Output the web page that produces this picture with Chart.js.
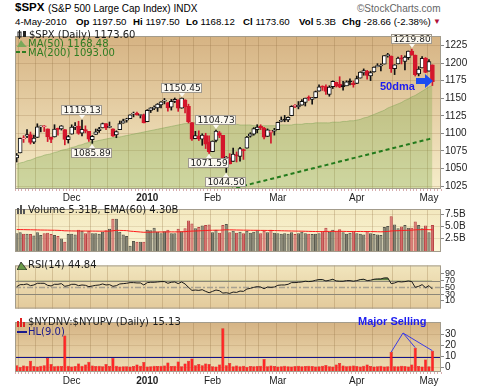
<!DOCTYPE html>
<html>
<head>
<meta charset="utf-8">
<script src="https://cdn.jsdelivr.net/npm/chart.js@4.4.0/dist/chart.umd.min.js"></script>
<style>
  html, body { margin: 0; padding: 0; background: #fff; }
  body { width: 480px; height: 388px; position: relative; overflow: hidden; font-family: "Liberation Sans", Arial, sans-serif; }
  canvas { position: absolute; left: 0; }
  .t { position: absolute; white-space: nowrap; line-height: 1; z-index: 5; }
  .h2 { font-size: 9.7px; top: 17px; }
  .lg { font-family: "DejaVu Sans", sans-serif; font-size: 10px; color: #1a1a1a; }
  .ic { position: absolute; z-index: 5; }
  b { font-weight: bold; }
</style>
</head>
<body>

<div class="t" style="left:15px;top:2px;font-size:11.5px;font-weight:bold;">$SPX</div>
<div class="t" style="left:48px;top:4px;font-size:10px;">(S&amp;P 500 Large Cap Index) INDX</div>
<div class="t" style="left:357px;top:4px;font-size:10px;color:#666;">©StockCharts.com</div>

<div class="t h2" style="left:15px;">4-May-2010</div>
<div class="t h2" style="left:76px;"><b>Op</b> 1197.50</div>
<div class="t h2" style="left:133px;"><b>Hi</b> 1197.50</div>
<div class="t h2" style="left:186px;"><b>Lo</b> 1168.12</div>
<div class="t h2" style="left:243px;"><b>Cl</b> 1173.60</div>
<div class="t h2" style="left:299px;"><b>Vol</b> 5.3B</div>
<div class="t h2" style="left:342px;"><b>Chg</b> -28.66 (-2.38%)</div>
<div class="t" style="left:433px;top:18px;font-size:8px;color:#b0103a;">▼</div>

<canvas id="cMain" width="480" height="174" style="top:29px"></canvas>
<canvas id="cVol" width="480" height="57" style="top:202px"></canvas>
<canvas id="cRsi" width="480" height="56" style="top:259px"></canvas>
<canvas id="cBreadth" width="480" height="73" style="top:315px"></canvas>

<!-- main panel legend -->
<svg class="ic" style="left:17px;top:30px" width="10" height="9"><rect x="1" y="2" width="3" height="5" fill="none" stroke="#222"/><line x1="2.5" y1="0" x2="2.5" y2="9" stroke="#222"/><rect x="6" y="1" width="3" height="6" fill="#222"/></svg>
<div class="t lg" style="left:29px;top:30px;">$SPX (Daily) 1173.60</div>
<svg class="ic" style="left:17px;top:39px" width="10" height="8"><polygon points="0,8 4,1 7,5 10,8" fill="#7aa85a"/></svg>
<div class="t lg" style="left:28px;top:39px;color:#2e7d22;">MA(50) 1168.48</div>
<svg class="ic" style="left:16px;top:48px" width="12" height="8"><line x1="0" y1="4" x2="12" y2="4" stroke="#2e7d22" stroke-width="2" stroke-dasharray="4,2"/></svg>
<div class="t lg" style="left:28px;top:48px;color:#2e7d22;">MA(200) 1093.00</div>
<div class="t" style="left:380px;top:81px;font-size:11px;font-weight:bold;color:#1c1cf0;">50dma</div>
<svg class="ic" style="left:416px;top:74px" width="18" height="14"><polygon points="0,4 9,4 9,0 17,7 9,14 9,10 0,10" fill="#1c4cf0"/></svg>

<!-- volume legend -->
<svg class="ic" style="left:17px;top:205px" width="10" height="9"><rect x="0" y="3" width="2" height="6" fill="#555"/><rect x="3" y="0" width="2" height="9" fill="#555"/><rect x="6" y="4" width="2" height="5" fill="#555"/></svg>
<div class="t lg" style="left:28px;top:205px;">Volume 5.31B, EMA(60) 4.30B</div>

<!-- rsi legend -->
<svg class="ic" style="left:17px;top:261px" width="10" height="9"><polygon points="0,9 4,1 7,5 10,9" fill="#6a9a4a" stroke="#222" stroke-width="0.8"/></svg>
<div class="t lg" style="left:28px;top:260px;">RSI(14) 44.84</div>

<!-- breadth legend -->
<svg class="ic" style="left:17px;top:318px" width="10" height="9"><rect x="0" y="3" width="2" height="6" fill="#e02020"/><rect x="3" y="0" width="2" height="9" fill="#e02020"/><rect x="6" y="4" width="2" height="5" fill="#e02020"/></svg>
<div class="t lg" style="left:28px;top:317px;">$NYDNV:$NYUPV (Daily) 15.13</div>
<svg class="ic" style="left:17px;top:328px" width="10" height="8"><line x1="0" y1="4" x2="10" y2="4" stroke="#1a1a8c" stroke-width="2"/></svg>
<div class="t lg" style="left:28px;top:327px;color:#1a1a8c;">HL(9.0)</div>
<div class="t" style="left:358px;top:316px;font-size:11px;font-weight:bold;color:#1c1cf0;">Major Selling</div>

<script>
// trading days shown, by month
const novDays = [6, 9, 10, 11, 12, 13, 16, 17, 18, 19, 20, 23, 24, 25, 27, 30];
const decDays = [1, 2, 3, 4, 7, 8, 9, 10, 11, 14, 15, 16, 17, 18, 21, 22, 23, 24, 28, 29, 30, 31];
const janDays = [4, 5, 6, 7, 8, 11, 12, 13, 14, 15, 19, 20, 21, 22, 25, 26, 27, 28, 29];
const febDays = [1, 2, 3, 4, 5, 8, 9, 10, 11, 12, 16, 17, 18, 19, 22, 23, 24, 25, 26];
const marDays = [1, 2, 3, 4, 5, 8, 9, 10, 11, 12, 15, 16, 17, 18, 19, 22, 23, 24, 25, 26, 29, 30, 31];
const aprDays = [1, 5, 6, 7, 8, 9, 12, 13, 14, 15, 16, 19, 20, 21, 22, 23, 26, 27, 28, 29, 30];
const mayDays = [3, 4];
const monthTicks = ['', 'Dec', '2010', 'Feb', 'Mar', 'Apr', 'May'];

const opens = [1064.95,1072.31,1092.19,1096.04,1098.31,1087.59,1094.13,1109.22,1109.44,1106.44,
  1094.66,1094.86,1105.83,1106.49,1105.47,1091.07,1098.89,1109.03,1110.59,1100.34,
  1105.52,1103.04,1091.07,1098.69,1103.96,1107.84,1114.11,1108.61,1106.36,1097.86,
  1105.31,1114.51,1118.84,1121.08,1127.53,1128.55,1125.53,1126.60,1116.56,1132.66,
  1135.71,1136.27,1140.52,1145.96,1143.81,1137.31,1145.68,1147.72,1136.03,1147.95,
  1138.68,1115.49,1092.40,1095.80,1091.94,1096.93,1087.61,1073.89,1090.05,1100.67,
  1097.25,1064.12,1065.51,1060.06,1069.68,1067.10,1075.95,1079.13,1096.14,1099.03,
  1105.49,1110.00,1107.49,1095.89,1101.24,1103.10,1105.36,1117.01,1119.36,1119.12,
  1125.12,1138.40,1137.56,1140.22,1143.96,1151.71,1148.53,1150.83,1159.94,1166.13,
  1166.68,1155.35,1166.47,1172.70,1170.03,1167.58,1167.71,1173.75,1171.75,1171.23,
  1178.71,1186.01,1188.23,1181.75,1187.47,1194.94,1195.94,1198.69,1210.77,1210.17,
  1192.06,1199.04,1207.16,1202.52,1207.87,1217.07,1211.52,1184.59,1193.30,1206.77,
  1188.58,1197.50];
const highs = [1071.48,1093.19,1096.77,1105.37,1101.97,1097.79,1113.69,1110.52,1111.10,1106.44,
  1094.66,1112.38,1107.56,1111.18,1105.47,1097.24,1112.28,1115.58,1117.28,1119.13,
  1110.72,1103.04,1097.04,1106.25,1108.50,1114.76,1114.11,1116.21,1106.36,1103.74,
  1117.68,1120.27,1121.58,1126.48,1130.38,1130.38,1126.42,1127.64,1133.87,1136.63,
  1139.19,1142.46,1145.39,1149.74,1143.81,1148.40,1150.41,1147.77,1150.45,1147.95,
  1141.58,1115.49,1102.97,1103.69,1099.51,1100.22,1096.45,1089.38,1104.73,1102.72,
  1097.25,1067.13,1071.20,1079.28,1073.67,1080.04,1077.81,1095.67,1101.03,1108.24,
  1112.42,1112.29,1108.58,1106.42,1103.50,1107.24,1116.11,1123.46,1125.64,1123.73,
  1139.38,1141.05,1145.37,1148.26,1150.24,1153.41,1150.98,1160.28,1169.20,1167.77,
  1169.20,1167.82,1174.72,1173.04,1180.69,1173.93,1174.85,1177.83,1174.56,1181.43,
  1187.73,1191.80,1189.60,1188.55,1194.66,1199.20,1199.04,1210.65,1213.92,1210.17,
  1197.87,1208.58,1210.99,1210.27,1217.28,1219.80,1211.52,1195.05,1209.36,1207.99,
  1205.13,1197.50];
const lows = [1059.32,1072.31,1087.18,1093.81,1084.90,1085.33,1094.13,1102.19,1102.70,1088.40,
  1086.81,1094.86,1097.63,1104.75,1083.74,1086.25,1098.89,1105.29,1098.74,1096.52,
  1100.83,1088.61,1085.89,1098.69,1101.34,1107.84,1105.35,1107.96,1095.88,1093.88,
  1105.31,1114.51,1116.00,1121.08,1123.51,1126.08,1121.94,1114.81,1116.56,1129.66,
  1133.95,1131.32,1136.22,1142.02,1131.77,1133.18,1143.80,1131.39,1135.77,1129.25,
  1114.84,1090.18,1092.40,1089.86,1083.11,1078.46,1071.59,1073.89,1087.96,1093.97,
  1062.78,1044.50,1056.51,1060.06,1059.34,1060.59,1062.97,1079.13,1094.72,1097.48,
  1100.80,1105.38,1092.18,1095.50,1086.02,1097.56,1105.36,1116.51,1116.58,1116.66,
  1125.12,1136.77,1134.90,1140.09,1138.99,1146.97,1141.45,1150.35,1159.94,1161.16,
  1155.33,1152.88,1163.83,1166.01,1165.09,1161.48,1167.71,1168.92,1165.77,1170.69,
  1178.71,1182.77,1177.25,1175.12,1187.15,1194.71,1188.82,1198.69,1208.50,1186.77,
  1183.68,1199.04,1198.85,1190.19,1205.10,1211.07,1181.62,1181.81,1193.30,1186.32,
  1188.58,1168.12];
const closes = [1069.30,1093.08,1093.01,1098.51,1087.24,1093.48,1109.30,1110.32,1109.80,1094.90,
  1091.38,1106.24,1105.65,1110.63,1091.49,1095.63,1108.86,1109.24,1099.92,1105.98,
  1103.25,1091.94,1095.95,1102.35,1106.41,1114.11,1107.93,1109.18,1096.08,1102.47,
  1114.05,1118.02,1120.59,1126.48,1127.78,1126.20,1126.42,1115.10,1132.99,1136.52,
  1137.14,1141.69,1144.98,1146.98,1136.22,1145.68,1148.46,1136.03,1150.23,1138.04,
  1116.48,1091.76,1096.78,1092.17,1097.50,1084.53,1073.87,1089.19,1103.32,1097.28,
  1063.11,1066.19,1056.74,1070.52,1068.13,1078.47,1075.51,1094.87,1099.51,1106.75,
  1109.17,1108.01,1094.60,1105.24,1102.94,1104.49,1115.71,1118.31,1118.79,1122.97,
  1138.70,1138.50,1140.45,1145.61,1150.24,1149.99,1150.51,1159.46,1166.21,1165.83,
  1159.90,1165.81,1174.17,1167.72,1165.73,1166.59,1173.22,1173.27,1169.43,1178.10,
  1187.44,1189.44,1182.45,1186.44,1194.37,1196.48,1197.30,1210.65,1211.67,1192.13,
  1197.52,1207.17,1205.94,1208.67,1217.28,1212.05,1183.71,1191.36,1206.78,1186.69,
  1202.26,1173.60];
const ma50 = [1056,1058,1059,1061,1062,1064,1066,1067,1069,1070,
  1071,1073,1074,1076,1077,1078,1080,1081,1083,1084,
  1086,1087,1088,1089,1090,1091,1092,1093,1094,1095,
  1095,1096,1097,1098,1099,1100,1101,1102,1103,1104,
  1105,1106,1107,1108,1109,1110,1111,1112,1113,1114,
  1114,1115,1115,1115,1116,1116,1116,1116,1116,1115,
  1115,1114,1114,1113,1113,1112,1112,1112,1112,1111,
  1111,1111,1111,1111,1111,1111,1111,1112,1112,1112,
  1112,1113,1113,1113,1114,1114,1114,1115,1115,1115,
  1115,1115,1116,1116,1116,1117,1117,1118,1118,1119,
  1120,1122,1123,1125,1127,1129,1131,1133,1136,1138,
  1140,1142,1144,1147,1149,1152,1154,1157,1160,1163,
  1166,1168.48];
const ma200 = [null,null,null,null,null,null,null,null,null,null,
  null,null,null,null,null,null,null,null,null,null,
  null,null,null,null,null,null,null,null,null,null,
  null,null,null,null,null,null,null,null,null,null,
  null,null,null,null,null,null,null,null,null,null,
  null,null,null,null,null,null,1013.0,1014.3,1015.5,1016.7,
  1018.0,1019.2,1020.4,1021.6,1022.9,1024.1,1025.3,1026.6,1027.8,1029.0,
  1030.3,1031.5,1032.7,1034.0,1035.2,1036.4,1037.7,1038.9,1040.1,1041.4,
  1042.6,1043.8,1045.1,1046.3,1047.5,1048.8,1050.0,1051.2,1052.5,1053.7,
  1054.9,1056.2,1057.4,1058.6,1059.9,1061.1,1062.3,1063.6,1064.8,1066.0,
  1067.3,1068.5,1069.7,1071.0,1072.2,1073.4,1074.7,1075.9,1077.1,1078.4,
  1079.6,1080.8,1082.1,1083.3,1084.5,1085.8,1087.0,1088.2,1089.5,1090.7,
  1091.9,1093.0];
// volume in billions of shares
const volume = [3.6,3.8,3.5,3.5,3.4,3.1,3.8,3.2,3.6,3.7,
  3.4,3.2,3.0,2.5,1.8,3.4,3.5,3.3,4.3,4.1,
  3.6,4.1,3.6,3.6,3.5,3.9,4.2,4.5,6.6,6.6,
  3.9,3.3,3.0,1.0,2.0,1.8,1.8,1.8,4.3,4.2,
  4.7,3.9,3.6,4.0,4.3,3.6,3.6,4.5,4.0,4.6,
  6.2,5.6,4.6,4.9,5.2,5.3,5.4,3.8,4.3,3.7,
  5.3,5.5,3.8,4.1,3.7,3.9,3.6,4.1,3.7,3.9,
  4.2,3.6,4.1,3.8,4.3,3.7,3.6,3.5,3.6,3.5,
  3.8,3.4,3.6,3.9,3.6,3.5,3.4,3.5,3.6,4.0,
  4.7,3.9,4.3,4.0,4.4,3.8,3.5,3.7,4.0,3.6,
  3.5,3.3,4.0,3.6,3.4,3.3,3.2,4.9,5.1,7.1,
  5.4,4.6,5.0,5.3,4.7,4.7,6.0,5.3,4.6,5.2,
  3.8,5.31];
const volEma = [4.35,4.34,4.33,4.31,4.30,4.28,4.27,4.25,4.24,4.23,
  4.21,4.20,4.18,4.15,4.09,4.08,4.06,4.05,4.05,4.05,
  4.04,4.04,4.03,4.02,4.01,4.01,4.01,4.02,4.10,4.18,
  4.17,4.15,4.12,4.02,3.96,3.90,3.84,3.78,3.80,3.81,
  3.84,3.85,3.85,3.85,3.87,3.87,3.86,3.88,3.89,3.91,
  3.98,4.03,4.05,4.08,4.11,4.15,4.19,4.20,4.21,4.21,
  4.25,4.29,4.28,4.27,4.25,4.24,4.22,4.22,4.20,4.19,
  4.19,4.17,4.17,4.16,4.16,4.14,4.12,4.10,4.08,4.06,
  4.05,4.03,4.02,4.01,3.99,3.97,3.95,3.94,3.92,3.94,
  3.96,3.96,3.97,3.97,3.98,3.97,3.95,3.94,3.95,3.94,
  3.95,3.93,3.94,3.93,3.92,3.90,3.88,3.91,3.95,4.05,
  4.09,4.11,4.14,4.18,4.20,4.22,4.28,4.31,4.32,4.35,
  4.31,4.30];
const rsi = [52,58,58,60,55,57,62,62,62,56,
  54,59,59,61,53,55,59,59,55,57,
  56,52,54,56,57,60,57,58,53,55,
  60,61,62,64,64,63,63,57,64,65,
  65,66,67,67,62,65,66,61,66,60,
  50,41,42,41,43,38,34,38,42,40,
  33,34,32,36,35,39,38,45,47,50,
  52,51,46,51,50,51,56,57,57,59,
  64,64,65,66,68,67,68,71,73,73,
  69,71,74,69,68,68,70,70,68,70,
  73,74,70,71,74,75,75,78,78,61,
  63,67,66,67,69,67,50,53,58,49,
  55,44.84];
// $NYDNV:$NYUPV ratio
const breadth = [2,0.6,1.8,1.2,6,1.2,0.8,1.5,2,8.5,
  3,1,1.5,1.2,29,1.5,0.8,1.2,3.5,1.5,
  2.5,5.2,1.8,1.2,1.5,1,3,1.2,8.5,1.5,
  0.8,1,1,0.8,1.2,2.5,1.5,4.8,0.8,1,
  1.5,1.2,1.5,1.8,4.5,1.2,1.5,5.3,1,3.5,
  6,8,2,3,2,3.5,3,1,0.8,2.5,
  35.5,2,4,1,1.8,1,1.5,0.6,1.2,1,
  1.2,1.5,7.5,1,1.8,1.2,0.8,1,1.5,1,
  0.7,1.2,1.5,1,1.2,1.5,1.2,0.8,1,1.5,
  2.2,1,0.8,2.5,4,1.8,1,1.5,1.8,1.2,
  0.8,1.5,2.7,1.2,0.8,1,1.5,0.8,1,13.9,
  1,1,1.5,1.2,0.8,2.5,17.9,1.2,0.8,7.2,
  1,15.13];
const hlLevel = 9.0;
const priceTicks = [1025, 1050, 1075, 1100, 1125, 1150, 1175, 1200, 1225];
const volTicks = [2.5, 5.0, 7.5];
const rsiTicks = [10, 30, 50, 70, 90];
const breadthTicks = [0, 10, 20, 30];
// [bar index, 'high' or 'low'] for the boxed price labels
const callouts = [[19, 'high'], [22, 'low'], [48, 'high'], [58, 'high'], [56, 'low'], [61, 'low'], [115, 'high']];
const sellingBars = [109, 116, 121];

// build x categories
const monthList = [[2009, 10, novDays], [2009, 11, decDays], [2010, 0, janDays], [2010, 1, febDays],
  [2010, 2, marDays], [2010, 3, aprDays], [2010, 4, mayDays]];
const xLabels = [];
const tickText = {};
const gridIdx = [];
monthList.forEach(([y, m, days], k) => {
  const start = xLabels.length;
  days.forEach(d => xLabels.push(y + '-' + (m + 1) + '-' + d));
  if (monthTicks[k]) tickText[start] = monthTicks[k];
  if (k === 0) {
    [1, 6, 11].forEach(i => gridIdx.push(i));
  } else {
    const n = days.length < 5 ? 20 : days.length;
    for (let q = 0; q < 4; q++) {
      const i = start + Math.round(q * n / 4);
      if (i < start + days.length) gridIdx.push(i);
    }
  }
});
xLabels.push('', '');

Chart.defaults.font.family = 'Liberation Sans';
Chart.defaults.font.size = 10;
Chart.defaults.color = '#222';

const red = '#d4162c';
const candleCol = closes.map((c, i) => (i > 0 && c < closes[i - 1]) ? red : '#111');
const candleFill = closes.map((c, i) => c < opens[i] ? candleCol[i] : '#ffffff');
const downDay = closes.map((c, i) => i > 0 && c < closes[i - 1]);

const panelBg = {
  id: 'panelBg',
  beforeDraw(chart, args, opts) {
    const {ctx, chartArea: a} = chart;
    const g = ctx.createLinearGradient(0, a.top, 0, a.bottom);
    g.addColorStop(0, opts.top);
    g.addColorStop(1, opts.bottom);
    ctx.save();
    ctx.fillStyle = g;
    ctx.fillRect(a.left, a.top, a.right - a.left, a.bottom - a.top);
    ctx.restore();
  },
  beforeDatasetsDraw(chart, args, opts) {
    const {ctx, chartArea: a} = chart;
    const ys = chart.scales.y;
    (opts.lines || []).forEach(l => {
      const py = Math.round(ys.getPixelForValue(l.value)) + 0.5;
      ctx.save();
      ctx.strokeStyle = l.color;
      ctx.lineWidth = l.width || 1;
      ctx.setLineDash(l.dash || []);
      ctx.beginPath();
      ctx.moveTo(a.left, py);
      ctx.lineTo(a.right, py);
      ctx.stroke();
      ctx.restore();
    });
  },
  afterDraw(chart, args, opts) {
    const {ctx, chartArea: a} = chart;
    ctx.save();
    ctx.strokeStyle = '#a39c8c';
    ctx.lineWidth = 1;
    ctx.strokeRect(a.left + 0.5, a.top + 0.5, a.right - a.left - 1, a.bottom - a.top - 1);
    ctx.restore();
  }
};
Chart.register(panelBg);

function xAxis(showLabels, height) {
  return {
    type: 'category',
    labels: xLabels,
    offset: true,
    afterFit: s => { s.height = height; },
    border: { display: false },
    grid: {
      offset: true,
      color: c => gridIdx.includes(c.index) ? 'rgba(150,115,70,0.3)' : 'rgba(0,0,0,0)',
      drawTicks: showLabels,
      tickLength: 2,
      tickColor: 'rgba(200,140,140,0.7)'
    },
    ticks: {
      display: showLabels,
      autoSkip: false,
      maxRotation: 0,
      padding: 1,
      color: '#222',
      font: c => ({ family: 'Liberation Sans', size: 10, weight: tickText[c.index] === '2010' ? 'bold' : 'normal' }),
      callback: (v, i) => tickText[i] || ''
    }
  };
}

function yAxis(min, max, ticks, fmt, gridColor, size) {
  return {
    position: 'right',
    min: min,
    max: max,
    afterFit: s => { s.width = 39; },
    afterBuildTicks: s => { s.ticks = ticks.map(v => ({ value: v })); },
    border: { display: false },
    grid: { color: gridColor, tickLength: 3, tickColor: '#888' },
    ticks: { autoSkip: false, padding: 1, color: '#222', font: { family: 'Liberation Sans', size: size || 10 }, callback: fmt }
  };
}

const baseOpts = {
  responsive: false,
  animation: false,
  devicePixelRatio: 1,
  layout: { padding: { left: 15, right: 0, top: 0, bottom: 0 } },
  events: []
};

// main price panel
const calloutPlugin = {
  id: 'callouts',
  afterDatasetsDraw(chart) {
    const {ctx} = chart;
    const xs = chart.scales.x, ys = chart.scales.y;
    ctx.save();
    ctx.font = '9px "DejaVu Sans"';
    callouts.forEach(([i, kind]) => {
      const v = kind === 'high' ? highs[i] : lows[i];
      const txt = v.toFixed(2);
      const w = Math.round(ctx.measureText(txt).width) + 4;
      const h = 10;
      const px = Math.round(xs.getPixelForValue(i));
      const py = ys.getPixelForValue(v);
      const top = kind === 'high' ? Math.round(py - 5 - h) : Math.round(py + 5);
      const left = px - Math.round(w / 2);
      ctx.fillStyle = '#fbf8f0';
      ctx.strokeStyle = '#a09a90';
      ctx.lineWidth = 1;
      ctx.fillRect(left, top, w, h);
      ctx.strokeRect(left + 0.5, top + 0.5, w - 1, h - 1);
      ctx.beginPath();
      if (kind === 'high') {
        ctx.moveTo(px - 3, top + h); ctx.lineTo(px + 3, top + h); ctx.lineTo(px, top + h + 4);
      } else {
        ctx.moveTo(px - 3, top); ctx.lineTo(px + 3, top); ctx.lineTo(px, top - 4);
      }
      ctx.closePath();
      ctx.fillStyle = '#fbf8f0';
      ctx.fill();
      ctx.fillStyle = '#222';
      ctx.textAlign = 'center';
      ctx.textBaseline = 'middle';
      ctx.fillText(txt, px, top + h / 2 + 0.5);
    });
    ctx.restore();
  }
};

new Chart(document.getElementById('cMain'), {
  type: 'bar',
  data: {
    labels: xLabels,
    datasets: [
      { type: 'line', data: ma50, order: 5, fill: 'start', backgroundColor: 'rgba(125,170,75,0.33)',
        borderColor: 'rgba(120,160,80,0.45)', borderWidth: 1, pointRadius: 0, tension: 0.3 },
      { type: 'line', data: ma200, order: 4, fill: false, borderColor: '#237a1c', borderWidth: 2,
        borderDash: [4, 3], pointRadius: 0 },
      { data: lows.map((l, i) => [l, highs[i]]), order: 3, grouped: false, barThickness: 1,
        backgroundColor: candleCol, borderWidth: 0 },
      { data: opens.map((o, i) => [o, closes[i]]), order: 2, grouped: false, barThickness: 4,
        minBarLength: 1, backgroundColor: candleFill, borderColor: candleCol, borderWidth: 1,
        borderSkipped: false }
    ]
  },
  options: Object.assign({}, baseOpts, {
    scales: {
      x: xAxis(true, 14),
      y: yAxis(1020.9, 1238.6, priceTicks, v => v, 'rgba(150,115,70,0.25)')
    },
    plugins: {
      legend: { display: false }, tooltip: { enabled: false },
      panelBg: { top: '#d6b383', bottom: '#f6edca' }
    }
  }),
  plugins: [calloutPlugin]
});

// volume panel
new Chart(document.getElementById('cVol'), {
  type: 'bar',
  data: {
    labels: xLabels,
    datasets: [
      { type: 'line', data: volEma, order: 1, borderColor: '#ff1a1a', borderWidth: 1, pointRadius: 0 },
      { data: volume, order: 2, barPercentage: 0.92, categoryPercentage: 1, base: -0.3,
        backgroundColor: downDay.map(d => d ? '#d46a6a' : '#7d7d70'),
        borderColor: downDay.map(d => d ? '#b84444' : '#55554a'), borderWidth: 1, borderSkipped: 'bottom' }
    ]
  },
  options: Object.assign({}, baseOpts, {
    scales: {
      x: xAxis(false, 0),
      y: yAxis(-0.3, 8.6, volTicks, v => v.toFixed(1) + 'B', 'rgba(150,115,70,0.18)')
    },
    plugins: {
      legend: { display: false }, tooltip: { enabled: false },
      panelBg: { top: '#f3e8be', bottom: '#fbf5d6' }
    }
  })
});

// RSI panel
new Chart(document.getElementById('cRsi'), {
  type: 'line',
  data: {
    labels: xLabels,
    datasets: [
      { data: rsi, borderColor: '#1a1a1a', borderWidth: 1, pointRadius: 0,
        fill: { target: { value: 70 }, above: 'rgba(60,110,40,0.8)', below: 'rgba(0,0,0,0)' } }
    ]
  },
  options: Object.assign({}, baseOpts, {
    scales: {
      x: xAxis(false, 0),
      y: yAxis(-13, 115, rsiTicks, v => v, 'rgba(0,0,0,0)', 9)
    },
    plugins: {
      legend: { display: false }, tooltip: { enabled: false },
      panelBg: { top: '#f1e5bd', bottom: '#e3ca9b', lines: [
        { value: 70, color: '#8c8778' }, { value: 30, color: '#8c8778' },
        { value: 50, color: '#a8a190', width: 1.5, dash: [6, 2, 2, 2] }] }
    }
  })
});

// $NYDNV:$NYUPV panel
const sellingPlugin = {
  id: 'selling',
  afterDatasetsDraw(chart) {
    const {ctx} = chart;
    const xs = chart.scales.x, ys = chart.scales.y;
    ctx.save();
    ctx.strokeStyle = '#3a3ae6';
    ctx.lineWidth = 1;
    sellingBars.forEach(i => {
      ctx.beginPath();
      ctx.moveTo(403, 18);
      ctx.lineTo(xs.getPixelForValue(i), ys.getPixelForValue(breadth[i]));
      ctx.stroke();
    });
    ctx.restore();
  }
};

new Chart(document.getElementById('cBreadth'), {
  type: 'bar',
  data: {
    labels: xLabels,
    datasets: [
      { data: breadth, barPercentage: 0.92, categoryPercentage: 1, base: -4.2,
        backgroundColor: '#ff2626', borderColor: '#d01010', borderWidth: 0.5, borderSkipped: 'bottom' }
    ]
  },
  options: Object.assign({}, baseOpts, {
    scales: {
      x: xAxis(true, 16),
      y: yAxis(-4.2, 41.2, breadthTicks, v => v, 'rgba(150,115,70,0.2)')
    },
    plugins: {
      legend: { display: false }, tooltip: { enabled: false },
      panelBg: { top: '#d5b384', bottom: '#efdfb6', lines: [{ value: hlLevel, color: '#14148a' }] }
    }
  }),
  plugins: [sellingPlugin]
});
</script>
</body>
</html>
